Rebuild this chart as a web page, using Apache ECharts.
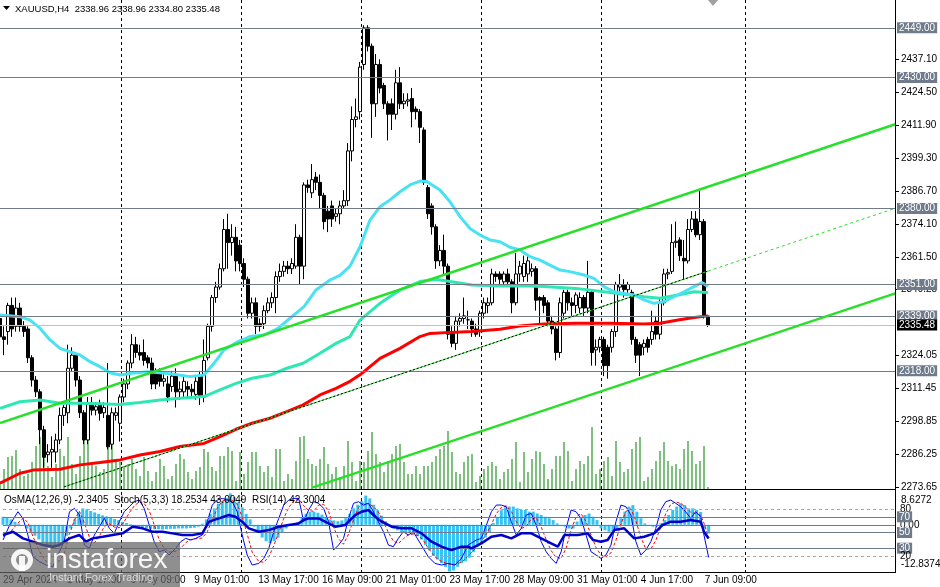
<!DOCTYPE html>
<html><head><meta charset="utf-8">
<script src="https://cdn.jsdelivr.net/npm/echarts@6/dist/echarts.min.js"></script>
<style>html,body{margin:0;padding:0;background:#fff;}#c{width:940px;height:587px;}</style>
</head><body><div id="c"></div>
<script>
// ---------- DATA ----------
// H4 candles, MT4 order [open, high, low, close]
const ohlc = [
[2338,2341,2325,2331],[2331,2335,2324,2330],[2333,2344,2328,2343],[2343,2346,2331,2334],[2335,2346,2333,2342],
[2342,2344,2333,2335],[2335,2337,2331,2333],[2334,2335,2321,2323],[2323,2324,2312,2314.5],[2314.5,2316,2308,2310],
[2310,2311,2290,2295.5],[2295.5,2297,2281,2285],[2286,2290,2283,2287],[2287,2293,2281,2288],[2287,2294,2283,2291.6],
[2291.6,2304,2290,2301],[2301,2305,2297,2304],[2302,2328,2298,2319],[2319,2327,2318,2324],[2324,2325,2312,2314.5],
[2314.5,2316,2300,2302],[2302,2303,2290,2291.6],[2291.6,2308,2290,2305.6],[2305.6,2308,2301,2303],[2303,2306,2301,2304.3],
[2305.6,2307,2299,2301.8],[2302,2306,2300,2304],[2301,2321,2288,2289],[2290,2304,2288,2302],[2301,2304,2299,2302],
[2298,2309,2291,2308],[2308,2315,2306,2313],[2313,2322,2311,2321],[2321,2332,2319,2328],[2328,2331,2323,2325],
[2325,2328,2322,2324],[2325,2330,2320,2322],[2323,2324,2319,2321],[2321,2323,2311,2313],[2317,2319,2311,2313],
[2317,2319,2312,2314],[2314,2317,2312,2315],[2313,2316,2306,2308],[2312,2318,2310,2316],[2316,2319,2304,2310],
[2310,2314,2307,2311],[2310,2316,2308,2314],[2312,2314,2308,2311],[2311,2313,2308,2310],[2309,2316,2307,2314],
[2316,2318,2305,2308],[2308,2330,2306,2322],[2323,2336,2322,2335],[2335,2347,2333,2346],[2346,2352,2344,2350],
[2350,2359,2349,2357],[2357,2376,2356,2372],[2372,2378,2357,2367],[2367,2374,2362,2369],[2369,2373,2356,2360],
[2366,2368,2356,2359],[2359,2361,2350,2353],[2353,2354,2338,2340],[2340,2346,2338,2344],[2344,2346,2332,2335],
[2336,2338,2333,2335],[2336,2343,2334,2341],[2341,2346,2340,2344],[2344,2348,2342,2346],[2346,2356,2340,2354],
[2354,2359,2352,2356],[2356,2360,2354,2358],[2358,2360,2355,2357],[2357,2361,2355,2359],[2358,2374,2357,2369],
[2369,2370,2351,2358],[2358,2390,2353,2389],[2389,2391,2386,2388],[2386,2397,2384,2391],[2392,2394,2387,2390],
[2390,2393,2380,2385],[2385,2386,2372,2375],[2379,2381,2371,2376],[2381,2383,2373,2376],[2377,2380,2375,2378],
[2378,2383,2374,2381],[2381,2387,2380,2383],[2383,2405,2381,2402],[2402,2419,2398,2414],[2414,2422,2411,2415],
[2417,2436,2414,2434],[2435,2450,2433,2449],[2449,2450,2440,2442],[2442,2443,2407,2420],[2420,2439,2415,2435],
[2435,2437,2424,2426],[2427,2428,2418,2420],[2420,2421,2406,2416],[2420,2422,2410,2416],[2416,2433,2414,2428],
[2428,2434,2418,2420],[2420,2424,2418,2421],[2421,2424,2419,2421.5],[2422,2426,2411,2417],[2418,2419,2414,2417],
[2417,2418,2405,2411],[2410,2411,2389,2390],[2388,2389,2376,2378],[2381,2382,2370,2373],[2373,2374,2357,2360],
[2360,2366,2358,2364],[2364,2370,2355,2358],[2358,2359,2330,2332],[2333,2335,2327,2328.5],[2328.5,2339,2326,2337],
[2337,2340,2335,2338],[2338,2346,2336,2339],[2337.5,2341,2334,2337.5],[2337,2338,2331,2334],[2334,2336,2331,2332],
[2333,2341,2331,2340],[2340,2346,2338,2344],[2343,2346,2340,2344],[2344,2357,2343,2355],[2355,2356,2352,2354],
[2355,2356,2351,2353],[2352,2356,2350,2355],[2355,2357,2351,2352],[2352,2353,2340,2344],[2344,2363,2343,2355],
[2355,2360,2352,2358],[2354,2362,2352,2359],[2355,2362,2352,2360],[2356,2359,2354,2357],[2357,2358,2341,2345],
[2346,2346.5,2336,2345],[2346,2347,2340,2343],[2344,2345,2335,2337],[2337,2339,2332,2334],[2334,2335,2322,2325],
[2325,2346,2323,2344],[2340,2349,2338,2348],[2348,2349,2341,2344],[2344,2346,2339,2343],[2343,2348,2340,2347],
[2342,2348,2340,2346],[2346,2347,2339,2342],[2342,2360,2340,2348],[2348,2349,2320,2325],[2326,2330,2320,2327],
[2327,2331,2325,2330],[2330,2331,2316,2320],[2327,2328,2315,2320],[2327,2334,2325,2333],[2333,2352,2331,2351],
[2350,2355,2348,2351],[2351,2353,2346,2349],[2349,2352,2347,2351],[2348,2349,2328,2330],[2330,2331,2321,2324],
[2328,2329,2316,2324],[2327,2330,2324,2328.5],[2330,2331,2325,2327],[2330,2341,2328,2333],[2337,2339,2330,2332],
[2332,2346,2330,2344],[2344,2357,2343,2355],[2355,2357,2353,2355.5],[2356,2374,2355,2367],[2367,2375,2365,2367.5],
[2368,2369,2360,2362],[2361,2368,2353,2360],[2360,2376,2359,2372],[2372,2379,2371,2376],[2376,2379,2369,2370],
[2370,2387,2368,2375],[2375,2376,2338,2339],[2338.96,2338.96,2334.80,2335.48]
];
const volumes = [8,20,32,33,39,20,13,15,27,43,52,32,23,12,25,40,33,52,25,15,33,50,50,25,23,17,20,48,47,27,
27,23,25,30,20,13,32,18,8,17,30,23,10,13,25,35,30,17,10,18,22,40,37,22,18,33,33,42,38,8,
37,15,27,37,37,23,17,23,12,40,40,8,15,10,28,52,53,30,25,23,30,42,25,15,22,12,23,48,27,8,
28,27,38,57,35,27,17,28,35,43,45,27,15,15,23,15,23,23,27,33,40,43,58,37,17,15,27,33,35,7,
13,20,23,27,23,10,17,20,30,47,7,37,17,30,38,37,25,10,20,33,33,47,38,8,20,28,25,33,62,15,
20,28,32,13,48,27,17,20,40,47,52,8,12,20,28,38,47,28,23,25,20,40,48,38,25,28,43,2];
const dateLabels = ['29 Apr 2024','1 May 17:00','6 May 09:00','9 May 01:00','13 May 17:00','16 May 09:00',
  '21 May 01:00','23 May 17:00','28 May 09:00','31 May 01:00','4 Jun 17:00','7 Jun 09:00'];
const priceTicks = [2437.10,2424.50,2411.90,2399.30,2386.70,2374.10,2361.50,2349.25,2324.05,2311.45,2298.85,2286.25,2273.65];
const levels = [2449.00,2430.00,2380.00,2351.00,2339.00,2318.00];
const bidPrice = 2335.48;
// moving averages [bar, price]
const cyanMA = [[0,2339.3],[5,2338.7],[7.5,2337.4],[10,2334.3],[12.5,2329.8],[15,2326.6],[17.5,2325.3],[20,2324.1],[22.5,2321.5],[25,2319.6],[27.5,2317.3],[30,2316.4],[33,2317.1],[37,2317.7],[40,2317.3],[43,2316.8],[47.5,2315.8],[51,2316.4],[53.5,2320.9],[56,2326],[59.5,2329.2],[62.5,2331.1],[66,2331.7],[69.5,2334.2],[72.5,2338.1],[76,2342.5],[79,2348.9],[82.5,2352.7],[85,2354.5],[87.5,2358],[90,2365.4],[92.5,2375.6],[95,2380.7],[97.5,2383.3],[100,2386.4],[102.5,2389],[105,2390.5],[106.7,2390.3],[110,2387.1],[112.5,2382.6],[115,2376.9],[117.5,2372.4],[120,2369.9],[122.5,2368],[125,2367.3],[127.5,2365.2],[130,2364.2],[132.5,2361.6],[135,2360.3],[140,2356.5],[142.5,2355.9],[146,2354.6],[148.5,2353.3],[151,2350.2],[153.5,2348.2],[156,2347.6],[158.5,2347],[161,2345.1],[163.5,2343.8],[166,2344.4],[168.5,2346.3],[171,2348.2],[173.5,2350.2],[175.5,2351.7],[177,2350.2]];
const tealMA = [[0,2303.7],[5,2306.2],[10,2306.9],[15,2305.6],[20,2305.6],[25,2305.4],[30,2305.2],[35,2305.9],[40,2306.9],[45,2307.5],[51,2308.2],[55,2310.7],[59,2313.2],[63,2315.2],[67.5,2316.4],[71.7,2319],[75.8,2320.9],[80,2324.7],[84,2328.5],[87.5,2331.1],[90,2337.4],[95,2343.8],[100,2348.9],[105,2352.1],[109,2353],[112.5,2352.1],[118,2350.8],[125,2350.4],[130,2350.5],[136,2350.2],[144,2349.5],[152.5,2347.9],[161,2346.3],[165,2345.7],[169.5,2347],[173.5,2348.2],[177,2347.9]];
const redMA = [[0,2275.1],[5,2278.9],[8.3,2280.1],[15,2280.4],[20,2282.1],[25,2283],[30,2284],[35,2285.9],[40,2287.2],[45,2289.1],[51,2290.3],[55,2292.9],[59,2295.7],[63,2298],[67.5,2299.9],[71.7,2302.4],[75.8,2305],[80,2308.8],[84,2311.3],[87.5,2314],[90,2316.5],[95,2322.8],[100,2326.6],[105,2331.1],[107.5,2332.3],[112.5,2332.7],[118,2333],[125,2333.9],[130,2335.1],[136,2335.9],[144,2336.2],[152.5,2336.2],[161,2335.9],[165,2336.2],[169.5,2337.4],[173.5,2338.4],[177,2339]];
// trend lines [bar, price]
const upperTrend = [[0,2298.1],[224,2412.3]];
const lowerTrend = [[78,2273.4],[224,2347.7]];
const midTrendHist = [[16,2273.7],[177,2356.1]];
const midTrendProj = [[177,2356.1],[224,2380.2]];
const gridBars = [30.25,60.25,90.25,120.25,150.25,186.25];
// indicators
const osma = [2.2,2.0,1.5,0.8,0.3,-0.3,-1,-2,-3,-4,
-5,-6,-6.2,-6,-5.5,-5,-3,-1,1.5,3.5,
4.5,4.2,3.8,3.4,3,2.6,2.3,2,1.6,1.3,
0.8,0.5,0.2,-0.2,-0.5,-0.8,-1,-1.1,-1.2,-1.2,
-1.3,-1.2,-1.1,-1.1,-1,-1,-1,-0.9,-0.8,-0.5,
0.3,1.5,3,4.5,5.8,6.5,7.4,8.6,7.6,6.2,
4.8,3,1.5,-0.5,-2,-3.5,-4.5,-5,-4.5,-3.5,
-2,-1,-0.3,0.2,0.8,2,3,3.5,3.6,3.3,
2.8,2,1.5,1.2,1.0,1.2,1.8,3,4.5,5.5,
6.5,8.0,7.2,5.5,4,2.5,1,-0.5,-1,-1.5,
-2,-2.2,-2.3,-2.5,-3,-4,-5.5,-7,-8.5,-9.5,
-10.5,-11.5,-12.8,-12.5,-11.5,-10.5,-10,-9,-7.5,-6,
-4.5,-3.5,-2,0.5,2.2,4,4.8,5,5,4.5,
4.1,4.1,3.6,3.6,3.1,2.7,2.2,1.8,1.3,0.4,
-0.3,-0.5,-1,-1,0.9,1.8,2.7,3.1,2.2,1.3,
-1,-1.5,-1.9,-1.9,-1.4,1.8,3.6,5,5.4,3.6,
1.8,0.4,-0.3,-0.5,-0.5,0.4,1.3,2.7,4.1,5,
5.9,5.4,4.5,4.5,4.1,3.5,-1.0,-2.34];
const stochMain = [[0,40.4],[1.67,59.5],[3.75,76.5],[5,68],[6.25,46.8],[7.5,19.1],[9.17,12.8],[10.83,8.5],[12.5,6.4],[14.17,25.5],[15.42,40.4],[16.67,76.5],[17.92,80.8],[19.17,72.3],[20.42,34],[21.67,29.8],[22.92,46.8],[24.17,57.4],[25.42,68],[26.67,55.3],[27.92,48.9],[29.17,63.8],[30.42,76.5],[31.67,82.9],[32.92,89.3],[34.17,91.4],[35.42,80.8],[36.67,59.5],[37.92,38.3],[39.17,25.5],[40.42,27.6],[41.67,21.3],[43.33,29.8],[44.58,38.3],[45.83,42.5],[47.08,40.4],[48.33,42.5],[50,46.8],[51.25,63.8],[52.5,85],[53.75,91.4],[55,93.5],[56.25,91.4],[57.5,89.3],[58.75,76.5],[60,46.8],[61.25,21.3],[62.5,8.5],[64.17,10.6],[65.42,17],[66.67,29.8],[67.92,51],[69.17,68],[70.42,85],[71.67,91.4],[72.92,93.5],[74.17,93.5],[75.42,63.8],[76.67,78.7],[77.92,89.3],[79.17,87.2],[80.42,80.8],[81.67,63.8],[82.92,27.6],[84.17,34],[85.42,42.5],[86.67,68],[87.92,87.2],[89.17,89.3],[90.42,85],[91.67,87.2],[92.92,76.5],[94.17,63.8],[95.42,51],[96.67,34],[97.92,31.9],[99.17,42.5],[100.42,51],[101.67,46.8],[102.92,51],[104.17,40.4],[105.42,29.8],[106.67,19.1],[108.33,10.6],[110,8.5],[111.67,10.6],[113.33,8.5],[115,17],[116.67,34],[118.75,40.4],[120,42.5],[121.25,59.5],[122.5,76.5],[123.75,85],[125,85],[126.25,82.9],[127.5,63.8],[128.75,46.8],[130,55.3],[131.25,72.3],[132.5,74.4],[133.75,59.5],[135,38.3],[136.25,25.5],[137.5,17],[138.75,10.6],[140,25.5],[141.25,55.3],[142.5,78.7],[143.75,76.5],[145,68],[146.25,46.8],[147.5,25.5],[148.75,21.3],[150,17],[151.25,21.3],[152.5,34],[153.75,63.8],[155,85],[156.25,82.9],[157.5,72.3],[158.75,38.3],[160,21.3],[161.25,27.6],[162.5,38.3],[163.75,55.3],[165,78.7],[166.25,89.3],[167.5,91.4],[168.75,87.2],[170,82.9],[171.25,76.5],[172.5,68],[173.75,76.5],[175,70.2],[175.83,46.8],[177,18.25]];
const stochSignal = [[0,45],[1.67,50],[3.75,62],[5,68],[6.25,63],[7.5,45],[9.17,26],[10.83,13],[12.5,9],[14.17,14],[15.42,24],[16.67,48],[17.92,66],[19.17,77],[20.42,62],[21.67,44],[22.92,37],[24.17,45],[25.42,58],[26.67,61],[27.92,57],[29.17,56],[30.42,64],[31.67,75],[32.92,84],[34.17,89],[35.42,87],[36.67,78],[37.92,60],[39.17,41],[40.42,30],[41.67,25],[43.33,26],[44.58,30],[45.83,37],[47.08,41],[48.33,42],[50,43],[51.25,51],[52.5,66],[53.75,81],[55,90],[56.25,92],[57.5,91],[58.75,86],[60,70],[61.25,48],[62.5,25],[64.17,13],[65.42,12],[66.67,19],[67.92,33],[69.17,50],[70.42,68],[71.67,82],[72.92,90],[74.17,93],[75.42,84],[76.67,78],[77.92,77],[79.17,85],[80.42,86],[81.67,77],[82.92,57],[84.17,42],[85.42,35],[86.67,48],[87.92,66],[89.17,82],[90.42,87],[91.67,87],[92.92,83],[94.17,76],[95.42,64],[96.67,50],[97.92,39],[99.17,36],[100.42,42],[101.67,47],[102.92,48],[104.17,46],[105.42,40],[106.67,30],[108.33,19],[110,13],[111.67,10],[113.33,9],[115,12],[116.67,20],[118.75,31],[120,39],[121.25,48],[122.5,60],[123.75,74],[125,82],[126.25,84],[127.5,77],[128.75,64],[130,55],[131.25,58],[132.5,67],[133.75,69],[135,57],[136.25,41],[137.5,27],[138.75,18],[140,17],[141.25,30],[142.5,53],[143.75,70],[145,74],[146.25,64],[147.5,47],[148.75,31],[150,21],[151.25,19],[152.5,24],[153.75,40],[155,61],[156.25,77],[157.5,80],[158.75,65],[160,44],[161.25,29],[162.5,29],[163.75,40],[165,57],[166.25,74],[167.5,86],[168.75,89],[170,87],[171.25,82],[172.5,76],[173.75,74],[175,72],[175.83,62],[177,43]];
const rsi = [[0,46.8],[2.5,51],[5,42.5],[7.5,38.3],[10,34],[12.5,31.9],[14.17,34],[16.67,42.5],[19.17,46.8],[20.83,38.3],[22.5,42.5],[25,44.6],[27.5,46.8],[30,48.9],[32.5,57.4],[35,55.3],[37.5,51],[40,51],[42.5,48.9],[45,46.8],[47.5,46.8],[50,48.9],[51.67,63.8],[54.17,68],[56.67,72.3],[58.33,70.2],[60,63.8],[61.67,55.3],[64.17,51],[66.67,53.1],[69.17,57.4],[71.67,59.5],[74.17,61.6],[75.42,65.9],[76.67,68],[79.17,68],[81.67,61.6],[83.33,57.4],[85.83,59.5],[88.33,72.3],[90,76.5],[91.67,78.7],[93.33,70.2],[95,63.8],[97.5,57.4],[100,55.3],[102.5,55.3],[105,48.9],[107.5,38.3],[110,31.9],[112.5,27.6],[115,31.9],[116.67,31.9],[117.5,29.8],[120,36.1],[122.5,44.6],[125,46.8],[127.5,42.5],[130,48.9],[132.5,48.9],[135,42.5],[137.5,36.1],[139.17,31.9],[140.83,46.8],[144.17,46.8],[146.67,48.9],[148,40.4],[150,38.3],[151.67,40.4],[153.33,53.1],[155.83,55.3],[158.33,42.5],[160.83,44.6],[163.33,48.9],[165.42,59.5],[167.5,63.8],[170,63.8],[172.5,65.9],[175,63.8],[175.83,51],[177,42.3]];
const oscLevels = [80,70,50,30,20];
const osmaMax = 8.6272, osmaMin = -12.8374;

// ---------- CHART ----------
const FONT = 'Liberation Sans';
const N = 225;
const cats = Array.from({length: N}, (_, i) => String(i));
const priceMin = 2272.886, priceMax = 2459.634;
const lvlColor = '#6f7b8b';
const chart = echarts.init(document.getElementById('c'), null, {renderer: 'canvas'});

function boxLabel(text, bg) {
  return {show: true, position: 'end', distance: 1, formatter: text, backgroundColor: bg, color: '#ffffff',
    fontSize: 10, fontFamily: FONT, padding: [1, 2, 0, 2], lineHeight: 10};
}
function plainLabel(text) {
  return {show: true, position: 'end', distance: 4, formatter: text, color: '#000', fontSize: 10, fontFamily: FONT};
}
const lineS = (data, color, width, z, xi, yi, type) => ({
  type: 'line', xAxisIndex: xi, yAxisIndex: yi, data: data, showSymbol: false, symbol: 'none', silent: true, z: z,
  lineStyle: {color: color, width: width, type: type || 'solid'}
});

const levelSeries = lineS([[0, levels[0]]], lvlColor, 1, 1, 1, 0);
levelSeries.markLine = {symbol: ['none', 'none'], silent: true, animation: false,
  data: levels.map(v => ({yAxis: v, lineStyle: {color: lvlColor, width: 1, type: 'solid'},
      label: boxLabel(v.toFixed(2), lvlColor)}))
    .concat([{yAxis: bidPrice, lineStyle: {color: '#c0c0c0', width: 1, type: 'solid'},
      label: boxLabel(bidPrice.toFixed(2), '#000000')}])};

const option = {
  animation: false,
  backgroundColor: '#ffffff',
  grid: [
    {left: 0, top: 0, width: 896, height: 489},
    {left: 0, top: 493.3, width: 896, height: 78.4}
  ],
  xAxis: [
    {type: 'category', gridIndex: 0, data: cats, boundaryGap: false, show: false},
    {type: 'value', gridIndex: 0, min: 0, max: 224, show: false},
    {type: 'category', gridIndex: 1, data: cats, boundaryGap: false,
      axisLine: {show: false}, axisTick: {show: false}, splitLine: {show: false},
      axisLabel: {interval: 15, align: 'left', margin: 4, fontSize: 10, fontFamily: FONT, color: '#000',
        formatter: (v, idx) => (idx % 16 === 0 && dateLabels[idx / 16]) ? dateLabels[idx / 16] : ''}},
    {type: 'value', gridIndex: 1, min: 0, max: 224, show: false}
  ],
  yAxis: [
    {type: 'value', gridIndex: 0, min: priceMin, max: priceMax, show: false},
    {type: 'value', gridIndex: 0, min: 0, max: 489, show: false},
    {type: 'value', gridIndex: 1, min: 0, max: 100, show: false},
    {type: 'value', gridIndex: 1, min: osmaMin, max: osmaMax, show: false}
  ],
  series: [
    {type: 'bar', xAxisIndex: 0, yAxisIndex: 1, data: volumes, barWidth: 1, silent: true, z: 1,
      itemStyle: {color: '#008000'}},
    levelSeries,
    {type: 'candlestick', xAxisIndex: 0, yAxisIndex: 0, barWidth: 3, silent: true, z: 3,
      data: ohlc.map(d => [d[0], d[3], d[2], d[1]]),
      itemStyle: {color: '#ffffff', color0: '#000000', borderColor: '#000000', borderColor0: '#000000', borderWidth: 1}},
    lineS(redMA, '#ff0000', 3, 4, 1, 0),
    lineS(tealMA, '#2ee8b4', 3, 4, 1, 0),
    lineS(cyanMA, '#48e2f2', 3, 4, 1, 0),
    lineS(upperTrend, '#28e028', 2.5, 5, 1, 0),
    lineS(lowerTrend, '#28e028', 2.5, 5, 1, 0),
    lineS(midTrendHist, '#28e028', 1, 5, 1, 0),
    lineS(midTrendHist, '#000000', 1, 5, 1, 0, [2, 2]),
    lineS(midTrendProj, '#28e028', 1, 5, 1, 0, [3, 3]),
    // indicator window
    {type: 'bar', xAxisIndex: 2, yAxisIndex: 3, data: osma, barWidth: 3, silent: true, z: 1,
      itemStyle: {color: '#36c2f2'},
      markLine: {symbol: ['none', 'none'], silent: true, animation: false,
        data: [{yAxis: 0, lineStyle: {color: lvlColor, width: 1, type: 'solid'}, label: plainLabel('0.00')}]}},
    Object.assign(lineS(stochSignal, '#ff0000', 1, 3, 3, 2, [3, 2]), {
      markLine: {symbol: ['none', 'none'], silent: true, animation: false,
        data: oscLevels.map(v => (v === 80 || v === 20)
          ? {yAxis: v, lineStyle: {color: '#a8a8a8', width: 1, type: [3, 3]}, label: plainLabel(String(v))}
          : {yAxis: v, lineStyle: {color: lvlColor, width: 1, type: 'solid'}, label: boxLabel(String(v), lvlColor)})}}),
    lineS(stochMain, '#0000ff', 1, 4, 3, 2),
    lineS(rsi, '#0000cd', 2.5, 5, 3, 2)
  ]
};
chart.setOption(option);

// ---------- overlay texts/frames placed through the chart's own scales ----------
const g = [];
const T = (x, y, text, opts) => Object.assign({type: 'text', x: x, y: y, silent: true,
  style: Object.assign({text: text, fill: '#000', font: '10px "' + FONT + '"', align: 'left', verticalAlign: 'middle',
    textAlign: 'left', textVerticalAlign: 'middle'}, (opts && opts.style) || {})}, (opts && opts.el) || {});
gridBars.forEach(b => {
  const x = Math.round(chart.convertToPixel({xAxisIndex: 1}, b)) + 0.5;
  g.push({type: 'line', silent: true, z: 0, shape: {x1: x, y1: 0, x2: x, y2: 572}, style: {stroke: '#000', lineWidth: 1, lineDash: [3, 3]}});
});
g.push({type: 'line', silent: true, z: 20, shape: {x1: 895.5, y1: 0, x2: 895.5, y2: 573}, style: {stroke: '#000', lineWidth: 1}});
g.push({type: 'line', silent: true, z: 20, shape: {x1: 0, y1: 489.5, x2: 896, y2: 489.5}, style: {stroke: '#000', lineWidth: 1}});
g.push({type: 'line', silent: true, z: 20, shape: {x1: 0, y1: 572.5, x2: 896, y2: 572.5}, style: {stroke: '#000', lineWidth: 1}});
priceTicks.forEach(v => {
  const y = Math.round(chart.convertToPixel({yAxisIndex: 0}, v)) + 0.5;
  g.push({type: 'line', silent: true, shape: {x1: 896, y1: y, x2: 899, y2: y}, style: {stroke: '#000', lineWidth: 1}});
  g.push(T(901, y, v.toFixed(2)));
});
g.push(T(901, chart.convertToPixel({yAxisIndex: 3}, osmaMax) + 7, osmaMax.toFixed(4)));
g.push(T(901, chart.convertToPixel({yAxisIndex: 3}, osmaMin) - 7, osmaMin.toFixed(4)));
g.push({type: 'polygon', silent: true, shape: {points: [[3, 6], [10, 6], [6.5, 10]]}, style: {fill: '#000'}});
g.push(T(15, 9, 'XAUUSD,H4  2338.96 2338.96 2334.80 2335.48', {style: {font: '9.5px "' + FONT + '"'}}));
g.push({type: 'polygon', silent: true, shape: {points: [[708, 0], [718, 0], [713, 6]]}, style: {fill: '#a0a0a0'}});
g.push(T(4, 500, 'OsMA(12,26,9) -2.3405  Stoch(5,3,3) 18.2534 43.0049  RSI(14) 42.3004', {el: {z: 30}}));
// watermark
g.push({type: 'rect', silent: true, z: 100, shape: {x: 0, y: 542, width: 180, height: 45}, style: {fill: 'rgba(100,100,100,0.72)'}});
g.push({type: 'ring', silent: true, z: 101, shape: {cx: 22, cy: 560, r: 11, r0: 6}, style: {fill: 'rgba(255,255,255,0.92)'}});
g.push({type: 'rect', silent: true, z: 101, shape: {x: 19, y: 556, width: 6, height: 15}, style: {fill: 'rgba(255,255,255,0.92)'}});
g.push(T(46, 560, 'instaforex', {el: {z: 101}, style: {fill: 'rgba(255,255,255,0.92)', font: '28px "' + FONT + '"'}}));
g.push(T(49, 578, 'Instant Forex Trading', {el: {z: 101}, style: {fill: 'rgba(230,230,230,0.85)', font: '11px "' + FONT + '"'}}));
chart.setOption({graphic: g});
</script>
</body></html>
